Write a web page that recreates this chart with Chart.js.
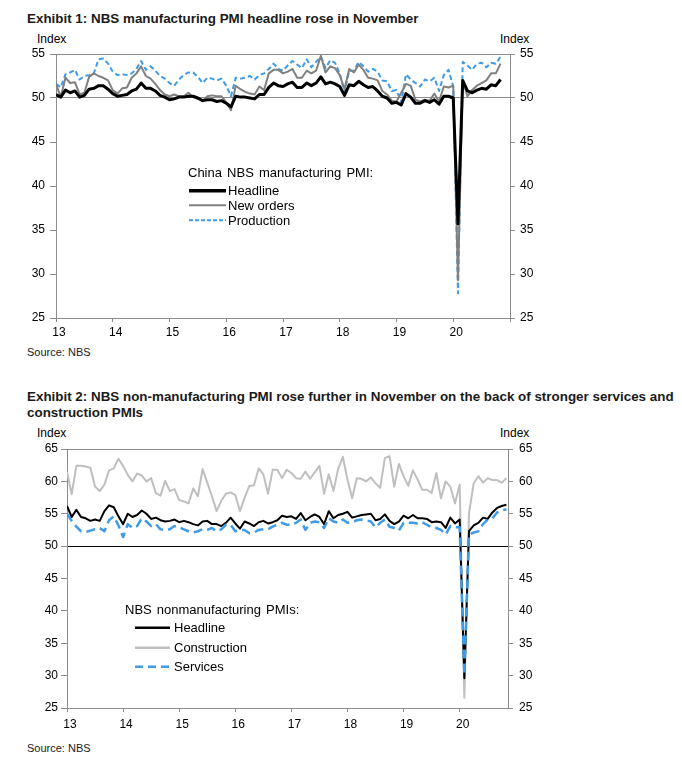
<!DOCTYPE html>
<html><head><meta charset="utf-8">
<script src="https://cdn.jsdelivr.net/npm/chart.js@4/dist/chart.umd.min.js"></script>
<style>
html,body{margin:0;padding:0;background:#fff}
body{width:682px;height:771px;position:relative;overflow:hidden;font-family:"Liberation Sans",Arial,sans-serif;color:#000}
.t{position:absolute;white-space:nowrap;line-height:1}
.title{font-weight:bold;font-size:13.4px;color:#1a1a1a}
.idx{font-size:12px}
.src{font-size:11px;color:#222}
.lg{font-size:13px}
canvas{position:absolute;left:0}
svg{position:absolute;left:0;top:0}
</style>
</head><body>
<div class="t title" style="left:27px;top:12px">Exhibit 1: NBS manufacturing PMI headline rose in November</div>
<div class="t idx" style="left:37px;top:33px">Index</div>
<div class="t idx" style="left:500px;top:33px">Index</div>
<canvas id="c1" width="560" height="300" style="top:40px"></canvas>
<div class="t src" style="left:27px;top:347px">Source: NBS</div>

<div class="t title" style="left:27px;top:389px;line-height:16px">Exhibit 2: NBS non-manufacturing PMI rose further in November on the back of stronger services and<br>construction PMIs</div>
<div class="t idx" style="left:37px;top:427px">Index</div>
<div class="t idx" style="left:500px;top:427px">Index</div>
<canvas id="c2" width="560" height="300" style="top:430px"></canvas>
<div class="t src" style="left:27px;top:743px">Source: NBS</div>

<div class="t lg" style="left:188px;top:166px;word-spacing:1.5px">China NBS manufacturing PMI:</div>
<div class="t lg" style="left:228px;top:184px">Headline</div>
<div class="t lg" style="left:228px;top:199px">New orders</div>
<div class="t lg" style="left:228px;top:214px">Production</div>

<div class="t lg" style="left:125px;top:603px;word-spacing:1.5px">NBS nonmanufacturing PMIs:</div>
<div class="t lg" style="left:174px;top:621px">Headline</div>
<div class="t lg" style="left:174px;top:641px">Construction</div>
<div class="t lg" style="left:174px;top:660px">Services</div>

<svg width="682" height="771">
  <line x1="189" y1="190.7" x2="226" y2="190.7" stroke="#000" stroke-width="3.5"/>
  <line x1="189" y1="205.3" x2="226" y2="205.3" stroke="#808080" stroke-width="2"/>
  <line x1="189" y1="220.3" x2="226" y2="220.3" stroke="#3f9be5" stroke-width="2" stroke-dasharray="4,2"/>
  <line x1="135" y1="627.7" x2="170" y2="627.7" stroke="#000" stroke-width="2.5"/>
  <line x1="135" y1="647.7" x2="170" y2="647.7" stroke="#bfbfbf" stroke-width="2.5"/>
  <line x1="135" y1="666.7" x2="170" y2="666.7" stroke="#3f9be5" stroke-width="2.5" stroke-dasharray="8,5"/>
</svg>

<script>
const yearLabels = ['13','14','15','16','17','18','19','20'];

// Monthly, Jan 2013 - Nov 2020
const mfgHeadline = [
50.4,50.1,50.9,50.6,50.8,50.1,50.3,51.0,51.1,51.4,51.4,51.0,
50.5,50.2,50.3,50.4,50.8,51.0,51.7,51.1,51.1,50.8,50.3,50.1,
49.8,49.9,50.1,50.1,50.2,50.2,50.0,49.7,49.8,49.8,49.6,49.7,
49.4,49.0,50.2,50.1,50.1,50.0,49.9,50.4,50.4,51.2,51.7,51.4,
51.3,51.6,51.8,51.2,51.2,51.7,51.4,51.7,52.4,51.6,51.8,51.6,
51.3,50.3,51.5,51.4,51.9,51.5,51.2,51.3,50.8,50.2,50.0,49.4,
49.5,49.2,50.5,50.1,49.4,49.4,49.7,49.5,49.8,49.3,50.2,50.2,
50.0,35.7,52.0,50.8,50.6,50.9,51.1,51.0,51.5,51.4,52.1];

const mfgNewOrders = [
51.6,50.1,52.3,51.7,51.8,50.4,50.6,52.4,52.8,52.5,52.3,52.0,
50.9,50.5,51.1,51.2,52.3,52.8,53.6,52.5,52.2,51.6,50.9,50.4,
50.2,50.4,50.2,50.2,50.6,50.1,49.9,49.7,50.2,50.3,50.2,50.2,
49.5,48.6,51.4,51.0,50.7,50.5,50.4,51.3,50.9,52.8,53.2,53.2,
52.8,53.0,53.3,52.3,52.3,53.1,52.8,53.1,54.8,52.9,53.6,53.4,
52.6,51.0,53.3,52.9,53.8,53.2,52.3,52.2,52.0,50.8,50.4,49.7,
49.6,50.6,51.6,51.4,49.8,49.6,49.8,49.7,50.5,49.6,51.3,51.2,
51.4,29.3,52.0,50.2,50.9,51.4,51.7,52.0,52.8,52.8,53.9];

const mfgProduction = [
51.6,51.2,52.7,52.9,53.2,52.1,52.5,52.6,52.8,54.4,54.5,53.9,
53.0,52.6,52.7,52.6,52.8,53.3,54.2,53.2,53.6,53.1,52.5,52.2,
51.7,51.4,52.1,52.6,52.9,52.9,52.4,51.7,52.3,52.2,52.0,52.2,
51.4,50.2,52.3,52.2,52.3,52.5,52.1,52.6,52.8,53.3,53.9,53.3,
53.1,53.7,54.2,53.8,53.4,54.4,53.5,54.1,54.7,53.4,54.3,54.0,
52.8,50.7,53.1,53.1,54.1,53.6,53.0,53.3,53.0,52.0,51.9,50.8,
50.9,49.5,52.7,52.1,51.7,51.3,52.1,51.9,52.3,50.8,52.6,53.2,
51.3,27.8,54.1,53.7,53.2,53.9,54.0,53.5,54.0,53.9,54.7];

const nonmfgHeadline = [
56.2,54.5,55.6,54.5,54.3,53.9,54.1,53.9,55.4,56.3,56.0,54.6,
53.4,55.0,54.5,54.8,55.5,55.0,54.2,54.4,54.0,53.8,53.9,54.1,
53.7,53.9,53.7,53.4,53.2,53.8,53.9,53.4,53.4,53.1,53.6,54.4,
53.5,52.7,53.8,53.5,53.1,53.7,53.9,53.5,53.7,54.0,54.7,54.5,
54.6,54.2,55.1,54.0,54.5,54.9,54.5,53.4,55.4,54.3,54.8,55.0,
55.3,54.4,54.6,54.8,54.9,55.0,54.0,54.2,54.9,53.9,53.4,53.8,
54.7,54.3,54.8,54.3,54.3,54.2,53.7,53.8,53.7,52.8,54.4,53.5,
54.1,29.6,52.3,53.2,53.6,54.4,54.2,55.2,55.9,56.2,56.4];

const nonmfgConstruction = [
61.5,58.0,62.4,62.4,62.3,62.1,59.2,58.5,59.5,61.7,62.0,63.5,
62.4,61.0,60.0,61.2,60.9,60.0,60.5,58.2,57.8,60.1,58.5,58.8,
57.1,56.9,56.6,58.9,57.7,61.9,59.8,57.7,55.4,57.0,58.1,58.3,
57.9,55.4,57.5,59.3,59.4,62.0,61.1,58.1,61.8,61.8,60.5,61.8,
61.3,60.5,60.4,61.5,60.4,61.4,62.4,58.1,61.1,58.5,61.9,63.8,
60.3,57.4,60.5,60.4,60.0,60.6,59.7,59.0,63.6,63.9,59.2,62.7,
60.8,59.3,61.7,60.3,58.7,58.7,58.2,61.3,57.4,60.0,59.2,56.6,
59.5,26.6,55.1,59.7,60.8,59.8,60.5,60.2,60.2,59.8,60.5];

const nonmfgServices = [
55.0,53.9,53.0,52.3,52.2,52.4,52.6,52.8,52.3,54.0,54.6,53.2,
51.4,53.4,52.8,53.1,54.3,53.8,53.1,53.4,52.6,52.5,52.6,53.1,
52.9,52.6,52.3,52.1,52.3,52.6,52.5,52.8,52.3,52.6,53.3,53.3,
52.3,52.5,52.5,52.0,52.1,52.5,52.6,52.6,53.0,53.3,53.6,53.3,
53.3,53.6,54.1,52.5,53.6,53.8,53.7,52.8,54.3,53.8,53.6,54.1,
53.6,53.7,54.0,54.1,54.0,53.8,52.9,53.6,54.1,53.0,52.8,52.4,
53.6,53.6,53.6,53.5,53.7,53.3,52.9,52.8,52.5,51.8,53.1,52.9,
52.9,30.1,51.8,52.1,52.3,53.4,54.1,54.3,55.2,55.5,55.7];

const FONT = '"Liberation Sans", Arial, sans-serif';
Chart.defaults.font.family = FONT;
Chart.defaults.font.size = 12;
Chart.defaults.color = '#000';

const AXIS = '#8c8c8c';
const BLUE = '#3f9be5';
const pts = arr => arr.map((v, i) => ({x: i, y: v}));

function buildChart(id, datasets, xMax, xTicks, yMin, yMax, gridFn, pad, leftW, rightW, yPadL, yPadR, tlL, xPad) {
  return new Chart(document.getElementById(id), {
    type: 'line',
    data: {datasets},
    options: {
      responsive: false, animation: false, devicePixelRatio: 1,
      layout: {padding: {top: pad, left: 0, right: 0, bottom: 0}},
      plugins: {legend: {display: false}, tooltip: {enabled: false}},
      elements: {point: {radius: 0}, line: {tension: 0, borderJoinStyle: 'round', borderCapStyle: 'butt'}},
      scales: {
        x: {
          type: 'linear', min: 0, max: xMax,
          afterBuildTicks: s => { s.ticks = xTicks.map(v => ({value: v})); },
          afterFit: s => { s.height = 22; },
          grid: {drawOnChartArea: false, drawTicks: true, tickLength: 4, tickColor: AXIS},
          border: {color: AXIS},
          ticks: {padding: xPad, labelOffset: 3, maxRotation: 0, autoSkip: false,
                  callback: v => { const l = yearLabels[Math.round(v / 12)]; return (v % 12 === 0 && l) ? l : ''; }}
        },
        y: {
          position: 'left', min: yMin, max: yMax,
          afterFit: s => { s.width = leftW; },
          ticks: {stepSize: 5, padding: yPadL},
          grid: {color: gridFn, tickColor: AXIS, tickLength: tlL},
          border: {color: AXIS}
        },
        y2: {
          position: 'right', min: yMin, max: yMax,
          afterFit: s => { s.width = rightW; },
          ticks: {stepSize: 5, padding: yPadR},
          grid: {drawOnChartArea: false, tickColor: AXIS, tickLength: 5},
          border: {color: AXIS}
        }
      }
    }
  });
}

const ticks96 = [0,12,24,36,48,60,72,84,96];
buildChart('c1', [
  {data: pts(mfgHeadline), borderColor: '#000', borderWidth: 3, order: 0},
  {data: pts(mfgNewOrders), borderColor: '#808080', borderWidth: 2, order: 1},
  {data: pts(mfgProduction), borderColor: BLUE, borderWidth: 2, borderDash: [5,3], order: 2}
], 96, ticks96, 25, 55,
  c => (c.tick && (c.tick.value === 50 || c.tick.value === 55)) ? AXIS : 'rgba(0,0,0,0)',
  14, 56, 50, 5, 5, 6, 3);

buildChart('c2', [
  {data: pts(nonmfgServices), borderColor: BLUE, borderWidth: 2.5, borderDash: [9,5], order: 0},
  {data: pts(nonmfgHeadline), borderColor: '#000', borderWidth: 2, order: 1},
  {data: pts(nonmfgConstruction), borderColor: '#bfbfbf', borderWidth: 2, order: 2}
], 94.34, [0,12,24,36,48,60,72,84], 25, 65,
  c => (c.tick && c.tick.value === 50) ? '#000' : ((c.tick && c.tick.value === 65) ? AXIS : 'rgba(0,0,0,0)'),
  19, 67, 52, 3, 6, 6, 5);
</script>
</body></html>
